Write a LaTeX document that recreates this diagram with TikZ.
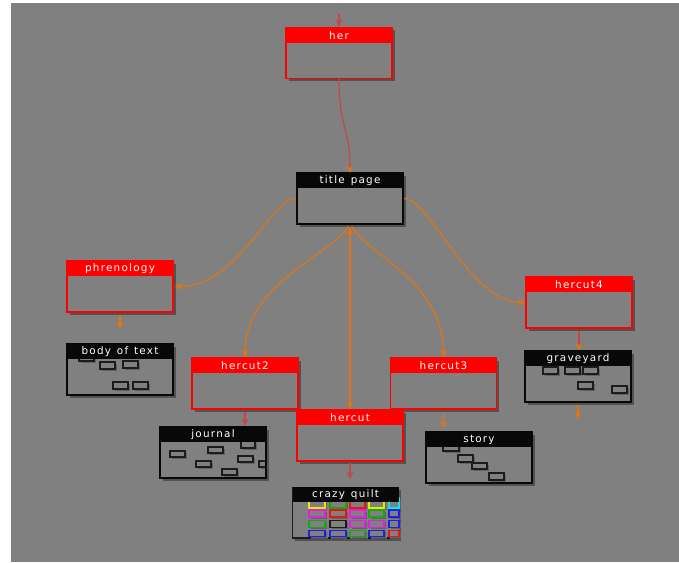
\documentclass[tikz,border=0pt]{standalone}
\usepackage{fontspec}
\newfontfamily\notefont[LetterSpace=12, WordSpace=1.3]{DejaVu Sans}
\usetikzlibrary{arrows.meta,shadows,calc}

\definecolor{bg}{RGB}{128,128,128}
\definecolor{shade}{RGB}{82,82,82}
\definecolor{minishade}{RGB}{98,98,98}
\definecolor{notered}{RGB}{255,0,0}
\definecolor{notedark}{RGB}{8,8,8}
\definecolor{cardline}{RGB}{28,28,28}
\definecolor{linkred}{RGB}{196,70,70}
\definecolor{linkorange}{RGB}{226,116,18}
\definecolor{qyellow}{RGB}{232,232,0}
\definecolor{qgreen}{RGB}{20,170,20}
\definecolor{qred}{RGB}{235,20,20}
\definecolor{qmagenta}{RGB}{225,30,225}
\definecolor{qblue}{RGB}{30,30,230}
\definecolor{qcyan}{RGB}{0,235,235}

\tikzset{
  card/.style={minimum width=106pt, minimum height=51pt, inner sep=0pt,
    outer sep=0pt, fill=bg, line width=1.3pt,
    drop shadow={shadow xshift=2.5pt, shadow yshift=-2.5pt, fill=shade, opacity=1}},
  hdr/.style={text=white, font=\notefont\fontsize{10.4}{10}\selectfont, inner sep=0pt},
  mini/.style={draw=#1, line width=1.2pt, fill=bg,
    drop shadow={shadow xshift=1.8pt, shadow yshift=-1.8pt, fill=minishade, opacity=1}},
  mini/.default=cardline,
  link/.style={line width=1.15pt},
  arr/.style={-{Stealth[length=7.5pt,width=7pt,inset=2.6pt,#1]}},
  arr/.default={},
  bothends/.style={{Stealth[length=7.5pt,width=7pt,inset=2.6pt]}-{Stealth[length=7.5pt,width=7pt,inset=2.6pt]}},
}

% name, centre, colour, title, contents drawn beneath the title bar
\newcommand\notecard[5]{%
  \node[card, draw=#3] (#1) at #2 {};
  #5
  \fill[#3] (#1.north west) rectangle ([yshift=-15pt]#1.north east);
  \draw[#3, line width=1.3pt] (#1.north west) rectangle (#1.south east);
  \node[hdr] (#1-title) at ([yshift=-7.8pt]#1.north) {#4};
}

\begin{document}
\begin{tikzpicture}[x=1pt, y=-1pt]
\useasboundingbox (0,0) rectangle (679,562);
\fill[white] (0,0) rectangle (679,562);
\fill[bg] (11,3) rectangle (679,562);

% ---- notes ----
\notecard{her}{(339,53)}{notered}{her}{}
\notecard{title}{(350,198.5)}{notedark}{title page}{}
\notecard{phren}{(120,286.5)}{notered}{phrenology}{}
\notecard{body}{(120,369.5)}{notedark}{body of text}{%
  \draw[mini] (79,354) rectangle (94,361);
  \draw[mini] (100,362) rectangle (115,369);
  \draw[mini] (123,361) rectangle (138,368);
  \draw[mini] (113,382) rectangle (128,389);
  \draw[mini] (133,382) rectangle (148,389);
}
\notecard{hercutB}{(245,383.5)}{notered}{hercut2}{}
\notecard{hercutC}{(443.5,383.5)}{notered}{hercut3}{}
\notecard{hercutD}{(579,302.5)}{notered}{hercut4}{}
\notecard{journal}{(213,452.5)}{notedark}{journal}{%
  \draw[mini] (170,451) rectangle (185,457);
  \draw[mini] (208,447) rectangle (223,453);
  \draw[mini] (241,441) rectangle (255,448);
  \draw[mini] (238,456) rectangle (253,462);
  \draw[mini] (196,461) rectangle (211,467);
  \draw[mini] (222,469) rectangle (237,475);
  \draw[mini] (259,461) rectangle (266,467);
}
\notecard{hercut}{(350,435.5)}{notered}{hercut}{}
\notecard{story}{(479,457.5)}{notedark}{story}{%
  \draw[mini] (443,444) rectangle (459,451);
  \draw[mini] (458,455) rectangle (473,462);
  \draw[mini] (472,463) rectangle (487,469);
  \draw[mini] (489,473) rectangle (504,480);
}
\notecard{grave}{(578,376.5)}{notedark}{graveyard}{%
  \draw[mini] (543,367) rectangle (558,374);
  \draw[mini] (565,367) rectangle (580,374);
  \draw[mini] (583,367) rectangle (598,374);
  \draw[mini] (578,382) rectangle (593,389);
  \draw[mini] (612,386) rectangle (627,393);
}

% crazy quilt: the patches cover most of its frame
\node[card, draw=none] (quilt) at (345.5,512.5) {};
\foreach \c/\x/\w in {qyellow/309/16, qgreen/330/16, qred/350/15, qyellow/369/15, qcyan/389/10}
  \draw[mini=\c] (\x,498) rectangle ++(\w,10);
\foreach \c/\x/\w in {qmagenta/309/16, qred/330/16, qmagenta/350/15, qgreen/369/15, qblue/389/10}
  \draw[mini=\c] (\x,510) rectangle ++(\w,7);
\foreach \c/\x/\w in {qgreen/309/16, cardline/330/16, qmagenta/350/15, qmagenta/369/15, qblue/389/10}
  \draw[mini=\c] (\x,520.5) rectangle ++(\w,7);
\foreach \c/\x/\w in {qblue/309/16, qblue/330/16, qgreen/350/15, qblue/369/15, qred/389/10}
  \draw[mini=\c] (\x,530.5) rectangle ++(\w,6);
\fill[notedark] (quilt.north west) rectangle ([yshift=-15pt]quilt.north east);
\draw[cardline, line width=1.3pt] (quilt.north west) -- (quilt.south west) -- ++(18,0);
\foreach \x in {328,347,368,387}
  \draw[cardline, line width=1.3pt] (\x,538) -- ++(3,0);
\node[hdr] (quilt-title) at ([yshift=-7.8pt]quilt.north) {crazy quilt};

% ---- links ----
\coordinate (feed) at (339,14);
\draw[link, linkred, arr, shorten >=1pt] (feed) -- (her.north);
\draw[link, linkred, arr={color=linkorange}]
  (her.south) .. controls +(0,50) and +(0,-45) .. (title.north);

\draw[link, linkorange, arr, shorten <=1pt, shorten >=2pt]
  (title.west) .. controls +(-26,-1) and +(66,0) .. (phren.east);
\draw[link, linkorange, arr, shorten <=1pt, shorten >=1pt]
  (title.east) .. controls +(27,0) and +(-56,0) .. (hercutD.west);
\draw[link, linkorange, arr, shorten <=3pt, shorten >=1pt]
  (title.south) .. controls +(-20,32) and +(0,-75) .. (hercutB.north);
\draw[link, linkorange, arr, shorten <=3pt, shorten >=1pt]
  (title.south) .. controls +(20,32) and +(0,-75) .. (hercutC.north);
\draw[link, linkorange, bothends, shorten <=3pt, shorten >=1pt]
  (title.south) -- (hercut.north);

\draw[link, linkorange, arr, shorten <=3pt, shorten >=15pt] (phren.south) -- (body.north);
\draw[link, linkred, arr, shorten <=3pt, shorten >=1pt]
  (hercutB.south) -- (hercutB.south |- journal.north);
\draw[link, linkred, arr, shorten <=2pt, shorten >=8pt]
  (hercut.south) -- (hercut.south |- quilt.north);
\draw[link, linkorange, arr, shorten <=4pt, shorten >=4pt]
  (hercutC.south) -- (hercutC.south |- story.north);
\draw[link, linkred, arr={color=linkorange}, shorten <=3pt, shorten >=1pt]
  (hercutD.south) -- (hercutD.south |- grave.north);
\coordinate (graveout) at (578,419);
\draw[link, linkorange, arr, shorten <=3pt] (grave.south) -- (graveout);
\end{tikzpicture}
\end{document}
